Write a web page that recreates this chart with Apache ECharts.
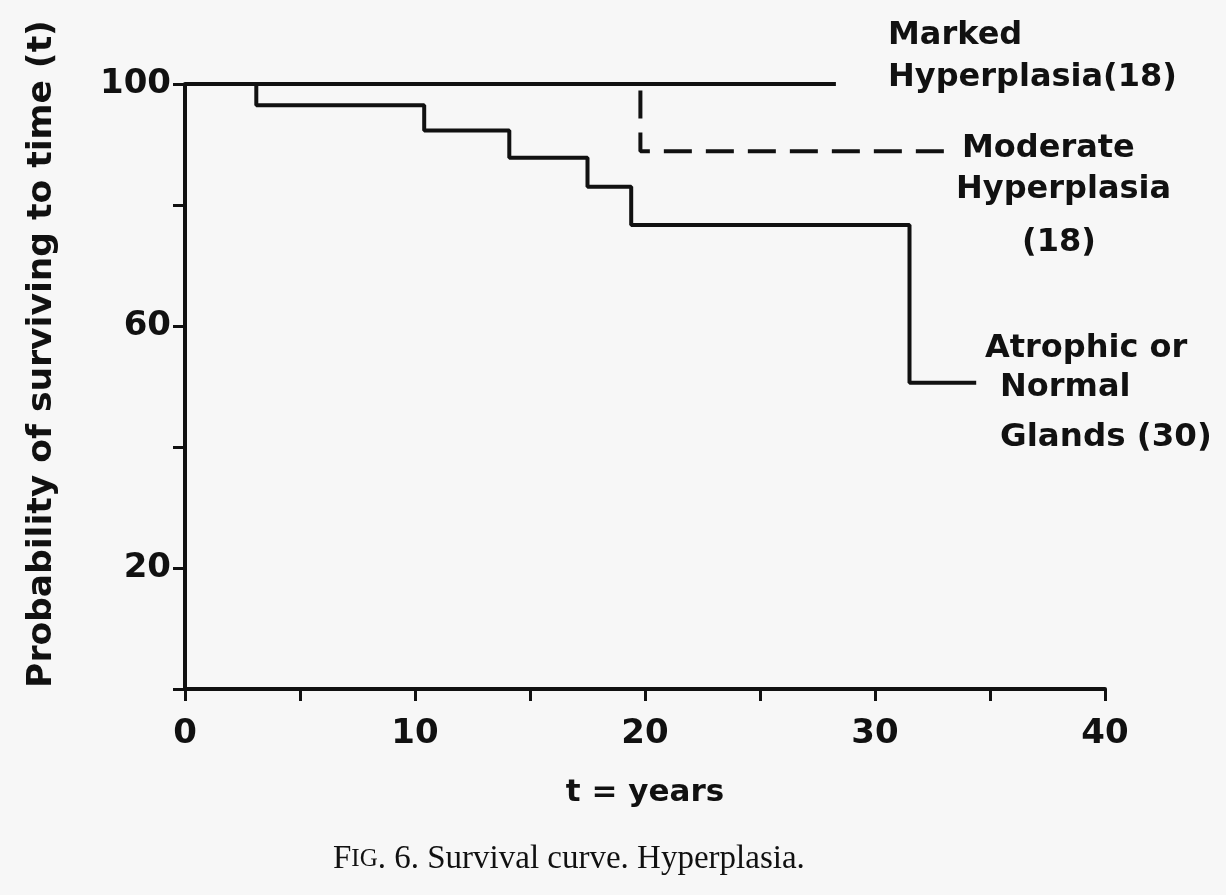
<!DOCTYPE html>
<html>
<head>
<meta charset="utf-8">
<script src="https://cdn.jsdelivr.net/npm/echarts@6/dist/echarts.min.js"></script>
<style>
html,body{margin:0;padding:0;background:#f7f7f7;}
#chart{width:1226px;height:895px;}
</style>
</head>
<body>
<div id="chart"></div>
<script>
// Data
const markedTimes = [0, 28.3];
const markedValues = [100, 100];
const moderateTimes = [0, 19.8, 33.0];
const moderateValues = [100, 88.9, 88.9];
const atrophicTimes = [0, 3.1, 10.4, 14.1, 17.5, 19.4, 31.5, 34.4];
const atrophicValues = [100, 96.5, 92.3, 87.8, 83.0, 76.7, 50.6, 50.6];
const xTickLabels = [0, 10, 20, 30, 40];
const yTickLabels = [20, 60, 100];
const seriesNames = ['Marked Hyperplasia(18)', 'Moderate Hyperplasia (18)', 'Atrophic or Normal Glands (30)'];

const zip = (a, b) => a.map((v, i) => [v, b[i]]);
const FONT = 'DejaVu Sans';
const chart = echarts.init(document.getElementById('chart'));
const lineCol = '#111';
const txt = {fontFamily: FONT, fontWeight: 'bold', fill: '#111'};

chart.setOption({
  backgroundColor: '#f7f7f7',
  animation: false,
  grid: {left: 185, right: 121, top: 84, bottom: 206},
  xAxis: {
    type: 'value', min: 0, max: 40, interval: 5,
    name: 't = years', nameLocation: 'middle', nameGap: 88,
    nameTextStyle: {fontFamily: FONT, fontSize: 31, fontWeight: 'bold', color: '#111'},
    axisLine: {lineStyle: {color: lineCol, width: 4}},
    axisTick: {length: 12, lineStyle: {color: lineCol, width: 3}},
    axisLabel: {
      margin: 28, fontFamily: FONT, fontSize: 34, fontWeight: 'bold', color: '#111',
      formatter: v => xTickLabels.includes(v) ? String(v) : ''
    },
    splitLine: {show: false}
  },
  yAxis: {
    type: 'value', min: 0, max: 100, interval: 20,
    axisLine: {show: true, lineStyle: {color: lineCol, width: 4}},
    axisTick: {show: true, length: 12, lineStyle: {color: lineCol, width: 3}},
    axisLabel: {
      margin: 14, fontFamily: FONT, fontSize: 34, fontWeight: 'bold', color: '#111',
      formatter: v => yTickLabels.includes(v) ? String(v) : ''
    },
    splitLine: {show: false}
  },
  series: [
    {
      name: seriesNames[0], type: 'line', step: 'end', symbol: 'none',
      data: zip(markedTimes, markedValues),
      lineStyle: {color: lineCol, width: 4}, z: 3
    },
    {
      name: seriesNames[1], type: 'line', step: 'end', symbol: 'none',
      data: zip(moderateTimes, moderateValues),
      lineStyle: {color: lineCol, width: 4, type: [28, 14]}, z: 2
    },
    {
      name: seriesNames[2], type: 'line', step: 'end', symbol: 'none',
      data: zip(atrophicTimes, atrophicValues),
      lineStyle: {color: lineCol, width: 4}, z: 2
    }
  ],
  graphic: [
    {type: 'text', x: 42, y: 354, rotation: Math.PI / 2,
      style: Object.assign({text: 'Probability of surviving to time (t)', fontSize: 34.5, align: 'center', verticalAlign: 'middle'}, txt)},
    {type: 'text', left: 888, top: 15, style: Object.assign({text: 'Marked\nHyperplasia(18)', fontSize: 32, lineHeight: 42}, txt)},
    {type: 'text', left: 962, top: 133, style: Object.assign({text: 'Moderate', fontSize: 32}, txt)},
    {type: 'text', left: 956, top: 174, style: Object.assign({text: 'Hyperplasia', fontSize: 32}, txt)},
    {type: 'text', left: 1022, top: 227, style: Object.assign({text: '(18)', fontSize: 32}, txt)},
    {type: 'text', left: 985, top: 333, style: Object.assign({text: 'Atrophic or', fontSize: 32}, txt)},
    {type: 'text', left: 1000, top: 372, style: Object.assign({text: 'Normal', fontSize: 32}, txt)},
    {type: 'text', left: 1000, top: 421, style: Object.assign({text: 'Glands (30)', fontSize: 32.5}, txt)},
    {type: 'text', left: 333, top: 843, style: {
      text: '{a|F}{b|IG}{a|. 6. Survival curve. Hyperplasia.}',
      rich: {
        a: {fontFamily: 'Liberation Serif', fontSize: 33, fill: '#111'},
        b: {fontFamily: 'Liberation Serif', fontSize: 25, fill: '#111'}
      }
    }}
  ]
});
</script>
</body>
</html>
